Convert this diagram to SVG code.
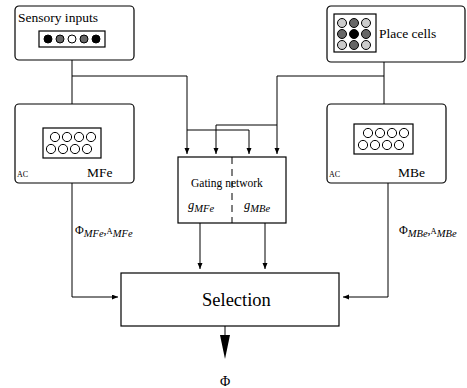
<svg xmlns="http://www.w3.org/2000/svg" width="467" height="388" viewBox="0 0 467 388">
<defs>
<style>
.box{fill:#fff;stroke:#000;stroke-width:1.2}
.ln{fill:none;stroke:#000;stroke-width:1}
.t{font-family:"Liberation Serif","Times New Roman",serif;fill:#000}
.it{font-style:italic}
.c{stroke:#000;stroke-width:1}
</style>
<marker id="ah" markerUnits="userSpaceOnUse" markerWidth="7" markerHeight="6" refX="6" refY="2.5" orient="auto">
<path d="M0,0 L6,2.5 L0,5 z" fill="#000"/>
</marker>
</defs>
<rect width="467" height="388" fill="#fff"/>

<g id="connectors">
<path class="ln" d="M72,60 V125" marker-end="url(#ah)"/>
<path class="ln" d="M72,76 H187 V154" marker-end="url(#ah)"/>
<path class="ln" d="M187,130 H249 V154" marker-end="url(#ah)"/>
<path class="ln" d="M384,62 V121" marker-end="url(#ah)"/>
<path class="ln" d="M384,76 H277 V154" marker-end="url(#ah)"/>
<path class="ln" d="M277,125 H216 V154" marker-end="url(#ah)"/>
<path class="ln" d="M72,158 V297 H118" marker-end="url(#ah)"/>
<path class="ln" d="M388,154 V297 H343" marker-end="url(#ah)"/>
<path class="ln" d="M200,223 V269" marker-end="url(#ah)"/>
<path class="ln" d="M265,223 V269" marker-end="url(#ah)"/>
<path class="ln" d="M225,326 V336"/>
<polygon points="220,335 230,335 225,359" fill="#000"/>
<text class="t" x="75" y="234" font-size="12">Φ<tspan class="it" font-size="10.5" dy="3">MFe</tspan><tspan dy="-3">,</tspan><tspan font-size="8.5">A</tspan><tspan class="it" font-size="10.5" dy="3">MFe</tspan></text>
<text class="t" x="399" y="234" font-size="12">Φ<tspan class="it" font-size="10.5" dy="3">MBe</tspan><tspan dy="-3">,</tspan><tspan font-size="8.5">A</tspan><tspan class="it" font-size="10.5" dy="3">MBe</tspan></text>
<text class="t" x="220" y="386" font-size="14">Φ</text>
</g>

<g id="sensory">
<rect class="box" x="15" y="6" width="119" height="54" rx="4"/>
<text class="t" x="18" y="22" font-size="13.5">Sensory inputs</text>
<rect class="box" x="39" y="31" width="66" height="16"/>
<circle class="c" cx="48" cy="39" r="4" fill="#000"/>
<circle class="c" cx="60" cy="39" r="4" fill="#666"/>
<circle class="c" cx="72" cy="39" r="4" fill="#fff"/>
<circle class="c" cx="84" cy="39" r="4" fill="#666"/>
<circle class="c" cx="96" cy="39" r="4" fill="#000"/>
</g>

<g id="place">
<rect class="box" x="327" y="6" width="138" height="56" rx="4"/>
<rect class="box" x="334" y="14" width="42" height="38"/>
<circle class="c" cx="342" cy="23" r="4.5" fill="#ccc"/>
<circle class="c" cx="354" cy="23" r="4.5" fill="#666"/>
<circle class="c" cx="366" cy="23" r="4.5" fill="#ccc"/>
<circle class="c" cx="342" cy="34" r="4.5" fill="#666"/>
<circle class="c" cx="354" cy="34" r="4.5" fill="#000"/>
<circle class="c" cx="366" cy="34" r="4.5" fill="#666"/>
<circle class="c" cx="342" cy="45" r="4.5" fill="#ccc"/>
<circle class="c" cx="354" cy="45" r="4.5" fill="#666"/>
<circle class="c" cx="366" cy="45" r="4.5" fill="#ccc"/>
<text class="t" x="379" y="38" font-size="13.5">Place cells</text>
</g>

<g id="mfe">
<rect class="box" x="15" y="104" width="119" height="79" rx="4"/>
<rect class="box" x="43" y="128" width="58" height="30"/>
<g fill="#fff" class="c">
<circle cx="55" cy="137" r="4.6"/><circle cx="67" cy="137" r="4.6"/><circle cx="79" cy="137" r="4.6"/><circle cx="91" cy="137" r="4.6"/>
<circle cx="51" cy="149" r="4.6"/><circle cx="63" cy="149" r="4.6"/><circle cx="75" cy="149" r="4.6"/><circle cx="87" cy="149" r="4.6"/>
</g>
<text class="t" x="17" y="177" font-size="8">AC</text>
<text class="t" x="87" y="177" font-size="13.5">MFe</text>
</g>

<g id="mbe">
<rect class="box" x="327" y="104" width="119" height="79" rx="4"/>
<rect class="box" x="354" y="124" width="59" height="30"/>
<g fill="#fff" class="c">
<circle cx="368" cy="133" r="4.6"/><circle cx="380" cy="133" r="4.6"/><circle cx="392" cy="133" r="4.6"/><circle cx="404" cy="133" r="4.6"/>
<circle cx="363" cy="145" r="4.6"/><circle cx="375" cy="145" r="4.6"/><circle cx="387" cy="145" r="4.6"/><circle cx="399" cy="145" r="4.6"/>
</g>
<text class="t" x="329" y="177" font-size="8">AC</text>
<text class="t" x="398" y="177" font-size="13.5">MBe</text>
</g>

<g id="gating">
<rect class="box" x="178" y="157" width="108" height="66"/>
<line x1="232" y1="157" x2="232" y2="223" stroke="#000" stroke-width="1" stroke-dasharray="7,5"/>
<text class="t" x="191" y="187" font-size="11.5">Gating network</text>
<text class="t it" x="188" y="209" font-size="12.5">g<tspan font-size="10.5" dy="3">MFe</tspan></text>
<text class="t it" x="244" y="209" font-size="12.5">g<tspan font-size="10.5" dy="3">MBe</tspan></text>
</g>

<g id="selection">
<rect class="box" x="121" y="273" width="218" height="53"/>
<text class="t" x="202" y="306" font-size="18.5">Selection</text>
</g>
</svg>
